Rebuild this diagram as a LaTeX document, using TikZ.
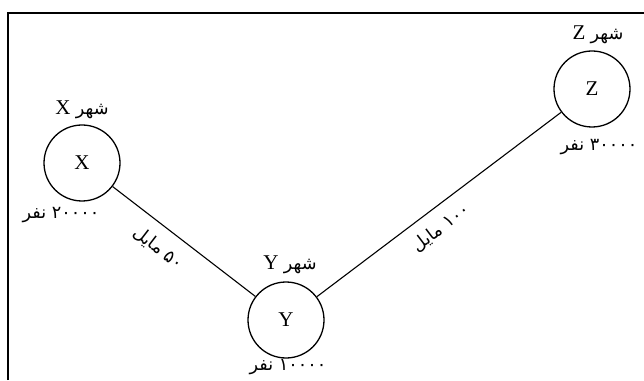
\documentclass[tikz,border=0pt]{standalone}
\usepackage{fontspec}
\setmainfont{Liberation Serif}
\newfontfamily\arabicfont[Script=Arabic,Scale=0.84]{DejaVu Sans}
\TeXXeTstate=1
\usetikzlibrary{positioning,calc}
\newcommand{\fatext}[1]{{\arabicfont\beginR #1\endR}}

\begin{document}
\begin{tikzpicture}[x=1pt,y=1pt,font=\fontsize{21}{25}\selectfont,
  city/.style={draw,circle,minimum size=76pt,inner sep=0pt,line width=1.3pt},
  road/.style={line width=1.1pt}]
\useasboundingbox (0,0) rectangle (644,380);
% frame
\draw[line width=2pt] (8,0) -- (8,367) -- (644,367);
% cities
\node[city] (X) at (82,217) {X};
\node[city] (Y) at (286,60) {Y};
\node[city] (Z) at (592,291) {Z};
\node (Xname) at (82,270) {\beginR\fatext{شهر} X\endR};
\node (Yname) at (290,115) {\beginR\fatext{شهر} Y\endR};
\node (Zname) at (598,345) {\beginR\fatext{شهر} Z\endR};
\node (Xpop) at (61,165) {\fatext{۲۰۰۰۰ نفر}};
\node (Ypop) at (288,13) {\fatext{۱۰۰۰۰ نفر}};
\node (Zpop) at (599,233) {\fatext{۳۰۰۰۰ نفر}};
% roads
\draw[road] (X) -- node[sloped,below=9pt,pos=0.41] (XYlen) {\fatext{۵۰ مایل}} (Y);
\draw[road] (Y) -- node[sloped,below=8pt,pos=0.46] (YZlen) {\fatext{۱۰۰ مایل}} (Z);
\end{tikzpicture}
\end{document}
